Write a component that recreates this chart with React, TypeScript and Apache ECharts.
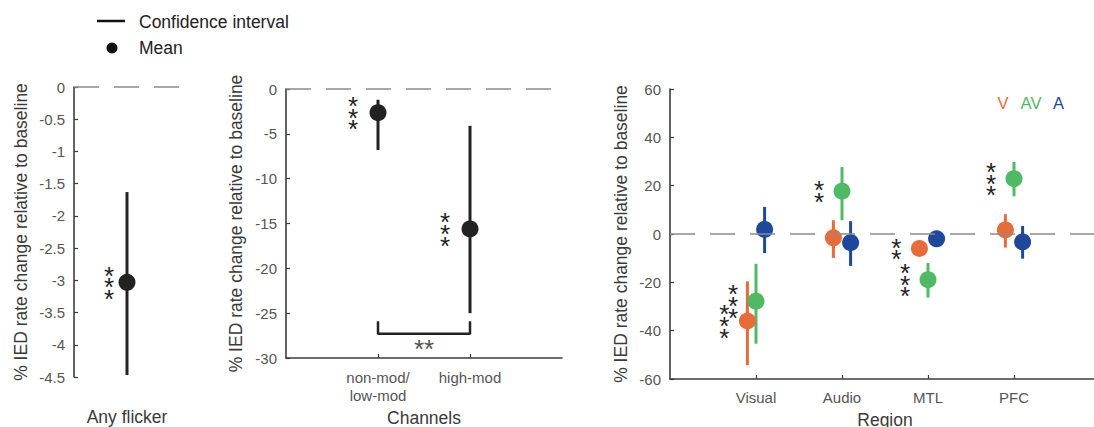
import React, { useEffect, useRef } from "react";
import * as echarts from "echarts";

// ---------- data ----------
const leftCategory = "Any flicker";
const leftMean = [-3.03];
const leftLow = [-4.47];
const leftHigh = [-1.63];
const leftStars = ["***"];

const channelCategories = ["non-mod/\nlow-mod", "high-mod"];
const channelMean = [-2.64, -15.6];
const channelLow = [-6.8, -25.0];
const channelHigh = [-1.2, -4.1];
const channelStars = ["***", "***"];
const bracketEnds = [1, 2];
const bracketTop = -25.9;
const bracketBottom = -27.3;
const bracketLabel = "**";

const regionCategories = ["Visual", "Audio", "MTL", "PFC"];
const vMean = [-36.0, -1.6, -6.0, 1.7];
const vLow = [-54.3, -9.9, -8.5, -5.6];
const vHigh = [-19.6, 5.7, -3.5, 8.2];
const vStars = ["***", "", "**", ""];
const avMean = [-27.8, 17.7, -18.9, 22.9];
const avLow = [-45.4, 5.7, -26.3, 15.6];
const avHigh = [-12.3, 27.7, -12.0, 29.8];
const avStars = ["***", "**", "***", "***"];
const aMean = [1.9, -3.6, -2.0, -3.3];
const aLow = [-7.9, -13.2, -4.5, -10.2];
const aHigh = [11.2, 5.3, 0.5, 3.3];
const aStars = ["", "", "", ""];

const groupLegend = ["V", "AV", "A"];

// ---------- styles ----------
const FONT = "'Liberation Sans', Arial, Helvetica, sans-serif";
const AXIS_COLOR = "#3c3c3c";
const LABEL_COLOR = "#555555";
const NAME_COLOR = "#3a3a3a";
const DARK = "#222222";
const ORANGE = "#E86C3A";
const GREEN = "#50B964";
const BLUE = "#1E489B";
const SYMBOL = 17;
const STAR_FONT = 26;

const zeroLine = {
  silent: true,
  symbol: "none",
  label: { show: false },
  lineStyle: { color: "#8a8a8a", type: [25, 15], width: 1.6 },
  data: [{ yAxis: 0 }],
};

function ciSeries(idx: number, xs: number[], low: number[], high: number[], color: string, withZero: boolean) {
  return {
    type: "custom",
    xAxisIndex: idx,
    yAxisIndex: idx,
    z: 2,
    encode: { x: 0, y: [1, 2] },
    data: xs.map((x, i) => [x, low[i], high[i]]),
    renderItem: (params: any, api: any) => {
      const x = api.value(0);
      const p1 = api.coord([x, api.value(1)]);
      const p2 = api.coord([x, api.value(2)]);
      return {
        type: "line",
        shape: { x1: p1[0], y1: p1[1], x2: p2[0], y2: p2[1] },
        style: { stroke: color, lineWidth: 3 },
      };
    },
    markLine: withZero ? zeroLine : undefined,
  };
}

function meanSeries(idx: number, xs: number[], mean: number[], color: string, stars: string[], starDx: number) {
  return {
    type: "scatter",
    xAxisIndex: idx,
    yAxisIndex: idx,
    z: 3,
    symbol: "circle",
    symbolSize: SYMBOL,
    itemStyle: { color, opacity: 1 },
    data: xs.map((x, i) => [x, mean[i]]),
    label: {
      show: true,
      position: "inside",
      offset: [starDx, 5],
      formatter: (p: any) => stars[p.dataIndex].split("").join("\n"),
      fontSize: STAR_FONT,
      lineHeight: 11.7,
      color: DARK,
      fontFamily: FONT,
    },
  };
}

function yAxisBase(idx: number, min: number, max: number, interval: number, gap: number) {
  return {
    gridIndex: idx,
    type: "value",
    min,
    max,
    interval,
    name: "% IED rate change relative to baseline",
    nameLocation: "middle",
    nameGap: gap,
    nameTextStyle: { fontSize: 17.5, color: NAME_COLOR, fontFamily: FONT },
    axisLine: { show: true, lineStyle: { color: AXIS_COLOR, width: 1.6 } },
    axisTick: { show: true, inside: true, length: 4, lineStyle: { color: AXIS_COLOR, width: 1.2 } },
    axisLabel: { color: LABEL_COLOR, fontSize: 15, fontFamily: FONT, margin: 9 },
    splitLine: { show: false },
  };
}

export default function App() {
  const ref = useRef<HTMLDivElement>(null);

  useEffect(() => {
    if (!ref.current) return;
    const chart = echarts.init(ref.current, null, { renderer: "svg" });

    const leftX = leftMean.map((_, i) => i + 1);
    const chX = channelMean.map((_, i) => i + 1);
    const rx = (off: number) => regionCategories.map((_, i) => i + 1 + off);

    const option: any = {
      animation: false,
      backgroundColor: "#ffffff",
      textStyle: { fontFamily: FONT },
      grid: [
        { left: 74, top: 87, width: 106, height: 290, outerBoundsMode: "none", containLabel: false },
        { left: 286, top: 89, width: 276, height: 269, outerBoundsMode: "none", containLabel: false },
        { left: 670, top: 89, width: 430, height: 290, outerBoundsMode: "none", containLabel: false },
      ],
      xAxis: [
        {
          gridIndex: 0,
          type: "value",
          min: 0,
          max: 2,
          name: leftCategory,
          nameLocation: "middle",
          nameGap: 31,
          nameTextStyle: { fontSize: 17.5, color: NAME_COLOR, fontFamily: FONT },
          axisLine: { show: false },
          axisTick: { show: false },
          axisLabel: { show: false },
          splitLine: { show: false },
        },
        {
          gridIndex: 1,
          type: "value",
          min: 0,
          max: 3,
          name: "Channels",
          nameLocation: "middle",
          nameGap: 50,
          nameTextStyle: { fontSize: 17.5, color: NAME_COLOR, fontFamily: FONT },
          axisLine: { show: true, onZero: false, lineStyle: { color: AXIS_COLOR, width: 1.6 } },
          axisTick: { show: true, inside: true, length: 4, customValues: chX, lineStyle: { color: AXIS_COLOR, width: 1.2 } },
          axisLabel: {
            customValues: chX,
            formatter: (v: number) => channelCategories[Math.round(v) - 1] ?? "",
            color: LABEL_COLOR,
            fontSize: 15,
            lineHeight: 18,
            margin: 10,
            fontFamily: FONT,
          },
          splitLine: { show: false },
        },
        {
          gridIndex: 2,
          type: "value",
          min: 0,
          max: 5,
          name: "Region",
          nameLocation: "middle",
          nameGap: 25,
          nameTextStyle: { fontSize: 17.5, lineHeight: 17, color: NAME_COLOR, fontFamily: FONT },
          axisLine: { show: true, onZero: false, lineStyle: { color: AXIS_COLOR, width: 1.6 } },
          axisTick: { show: true, inside: true, length: 4, customValues: rx(0), lineStyle: { color: AXIS_COLOR, width: 1.2 } },
          axisLabel: {
            customValues: rx(0),
            formatter: (v: number) => regionCategories[Math.round(v) - 1] ?? "",
            color: LABEL_COLOR,
            fontSize: 15,
            lineHeight: 18,
            margin: 9,
            fontFamily: FONT,
          },
          splitLine: { show: false },
        },
      ],
      yAxis: [
        yAxisBase(0, -4.5, 0, 0.5, 44),
        yAxisBase(1, -30, 0, 5, 41),
        yAxisBase(2, -60, 60, 20, 40),
      ],
      graphic: [
        { type: "line", shape: { x1: 97, y1: 21, x2: 125, y2: 21 }, style: { stroke: "#111", lineWidth: 2.5 } },
        { type: "circle", shape: { cx: 112, cy: 48, r: 5.5 }, style: { fill: "#111" } },
        { type: "text", x: 139, y: 22, style: { text: "Confidence interval", fontSize: 17.5, fontFamily: FONT, fill: "#222", verticalAlign: "middle" } },
        { type: "text", x: 139, y: 48, style: { text: "Mean", fontSize: 17.5, fontFamily: FONT, fill: "#222", verticalAlign: "middle" } },
        { type: "text", x: 1003, y: 103, style: { text: groupLegend[0], fontSize: 16.5, fontFamily: FONT, fill: ORANGE, align: "center", verticalAlign: "middle" } },
        { type: "text", x: 1031, y: 103, style: { text: groupLegend[1], fontSize: 16.5, fontFamily: FONT, fill: GREEN, align: "center", verticalAlign: "middle" } },
        { type: "text", x: 1058.5, y: 103, style: { text: groupLegend[2], fontSize: 16.5, fontFamily: FONT, fill: BLUE, align: "center", verticalAlign: "middle" } },
      ],
      series: [
        // left panel
        ciSeries(0, leftX, leftLow, leftHigh, DARK, true),
        meanSeries(0, leftX, leftMean, DARK, leftStars, -18),
        // middle panel
        ciSeries(1, chX, channelLow, channelHigh, DARK, true),
        meanSeries(1, chX, channelMean, DARK, channelStars, -25),
        {
          type: "line",
          xAxisIndex: 1,
          yAxisIndex: 1,
          z: 2,
          symbol: "none",
          lineStyle: { color: DARK, width: 2.5 },
          data: [
            [bracketEnds[0], bracketTop],
            [bracketEnds[0], bracketBottom],
            [bracketEnds[1], bracketBottom],
            [bracketEnds[1], bracketTop],
          ],
        },
        {
          type: "scatter",
          xAxisIndex: 1,
          yAxisIndex: 1,
          symbolSize: 0,
          data: [[(bracketEnds[0] + bracketEnds[1]) / 2, bracketBottom]],
          label: {
            show: true,
            position: "inside",
            offset: [0, 15],
            formatter: bracketLabel,
            fontSize: STAR_FONT,
            color: DARK,
            fontFamily: FONT,
          },
        },
        // right panel
        ciSeries(2, rx(-0.1), vLow, vHigh, ORANGE, true),
        meanSeries(2, rx(-0.1), vMean, ORANGE, vStars, -23),
        ciSeries(2, rx(0), avLow, avHigh, GREEN, false),
        meanSeries(2, rx(0), avMean, GREEN, avStars, -23),
        ciSeries(2, rx(0.1), aLow, aHigh, BLUE, false),
        meanSeries(2, rx(0.1), aMean, BLUE, aStars, -23),
      ],
    };

    chart.setOption(option);
    return () => chart.dispose();
  }, []);

  return (
    <div
      ref={ref}
      style={{ position: "fixed", left: 0, top: 0, width: 1094, height: 427, background: "#fff" }}
    />
  );
}
